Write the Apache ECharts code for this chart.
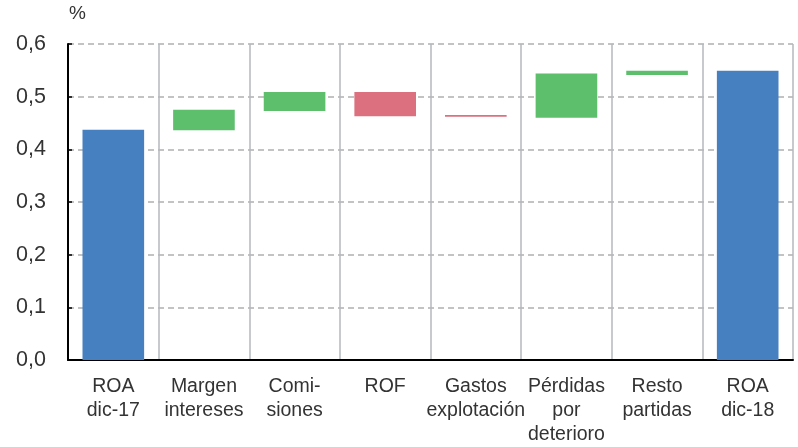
<!DOCTYPE html>
<html>
<head>
<meta charset="utf-8">
<script src="https://cdn.jsdelivr.net/npm/echarts@6/dist/echarts.min.js"></script>
<style>
  html, body { margin: 0; padding: 0; background: #fff; }
  #chart { width: 798px; height: 447px; }
</style>
</head>
<body>
<div id="chart"></div>
<script>
var categories = ["ROA\ndic-17", "Margen\nintereses", "Comi-\nsiones", "ROF", "Gastos\nexplotación", "Pérdidas\npor\ndeterioro", "Resto\npartidas", "ROA\ndic-18"];
// bottom of each floating bar and its height (in %)
var baseValues = [0, 0.436, 0.473, 0.463, 0.462, 0.460, 0.541, 0];
var barValues = [0.437, 0.039, 0.036, 0.046, 0.003, 0.084, 0.008, 0.549];
var barKinds = ["total", "up", "up", "down", "down", "up", "up", "total"];
var yTicks = [0, 0.1, 0.2, 0.3, 0.4, 0.5, 0.6];

var kindColors = { total: "#4780c0", up: "#5dbf6b", down: "#dc707f" };

var dom = document.getElementById("chart");
var myChart = echarts.init(dom);
var option = {
  animation: false,
  textStyle: { fontFamily: "Liberation Sans, Arial, sans-serif" },
  grid: { left: 68, right: 5, top: 44, bottom: 86 },
  xAxis: {
    type: "category",
    data: categories,
    axisLine: { lineStyle: { color: "#000", width: 2 } },
    axisTick: { show: false },
    axisLabel: { color: "#333", fontSize: 19.5, lineHeight: 24, margin: 15, interval: 0 },
    splitLine: { show: true, lineStyle: { color: "#b5b9bd", width: 1.5 } },
  },
  yAxis: {
    type: "value",
    min: yTicks[0],
    max: yTicks[yTicks.length - 1],
    interval: 0.1,
    name: "%",
    nameLocation: "end",
    nameGap: 21,
    nameTextStyle: { color: "#333", fontSize: 19, align: "left", padding: [0, 0, 0, 1] },
    axisLine: { show: true, lineStyle: { color: "#000", width: 2 } },
    axisTick: { show: true, inside: true, length: 4, lineStyle: { color: "#000", width: 1.5 } },
    axisLabel: {
      color: "#333",
      fontSize: 21.5,
      margin: 22,
      formatter: function (v) { return v.toFixed(1).replace(".", ","); },
    },
    splitLine: { lineStyle: { color: "#b0b0b0", width: 1.5, type: [6, 4] } },
  },
  series: [
    {
      type: "bar",
      stack: "w",
      barWidth: "68%",
      silent: true,
      itemStyle: { color: "transparent" },
      data: baseValues,
    },
    {
      type: "bar",
      stack: "w",
      barWidth: "68%",
      data: barValues.map(function (v, i) {
        return { value: v, itemStyle: { color: kindColors[barKinds[i]] } };
      }),
    },
  ],
};
option && "object" == typeof option && myChart.setOption(option, !0);
</script>
</body>
</html>
